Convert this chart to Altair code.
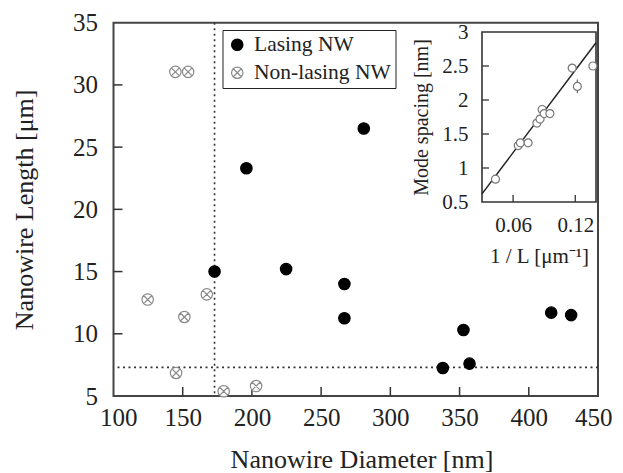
import altair as alt
import pandas as pd

FONT = "Liberation Serif"
TXT = "#222"

# ---------------- main data ----------------
las_diam = [173, 196, 224.7, 266.8, 266.8, 280.8, 337.9, 352.8, 357.2, 416.2, 430.6]
las_len = [15.0, 23.3, 15.2, 14.0, 11.25, 26.5, 7.25, 10.3, 7.6, 11.7, 11.5]
non_diam = [144.7, 153.9, 124.7, 151.2, 167.4, 145.2, 179.6, 203.0]
non_len = [31.05, 31.05, 12.75, 11.35, 13.17, 6.85, 5.38, 5.8]
labels = ["Lasing NW", "Non-lasing NW"]

x_domain = [100, 450]
y_domain = [5, 35]
x_ticks = [100, 150, 200, 250, 300, 350, 400, 450]
y_ticks = [5, 10, 15, 20, 25, 30, 35]
x_inner_ticks = [150, 200, 250, 300, 350, 400]
y_inner_ticks = [10, 15, 20, 25, 30]
vline_diam = [173]
hline_len = [7.3]

# ---------------- inset data ----------------
inv_L = [0.043, 0.065, 0.067, 0.0745, 0.083, 0.086, 0.088, 0.090, 0.0955, 0.117, 0.122, 0.137]
spacing = [0.835, 1.33, 1.37, 1.37, 1.66, 1.72, 1.86, 1.80, 1.80, 2.47, 2.20, 2.50]
spacing_err = [0, 0, 0, 0, 0, 0, 0, 0, 0, 0, 0.1, 0]
fit_slope = [20.2]
fit_intercept = [0.014]
ix_domain = [0.03, 0.14]
iy_domain = [0.5, 3.0]
ix_ticks = [0.06, 0.12]
iy_ticks = [0.5, 1, 1.5, 2, 2.5, 3]
iy_inner_ticks = [1, 1.5, 2, 2.5]

# ---------------- layout (pixels) ----------------
W, H = 484.5, 373.3
INSET_X = [368.5, 482.5]
INSET_Y = [179.3, 9.3]

main_df = pd.DataFrame({
    "diam": las_diam + non_diam,
    "len": las_len + non_len,
    "type": [labels[0]] * len(las_diam) + [labels[1]] * len(non_diam),
})

otimes = ("M-1,0A1,1,0,1,1,1,0A1,1,0,1,1,-1,0Z"
          "M-0.7071,-0.7071L0.7071,0.7071M-0.7071,0.7071L0.7071,-0.7071")


def xs():
    return alt.Scale(domain=x_domain, nice=False, zero=False)


def ys():
    return alt.Scale(domain=y_domain, nice=False, zero=False)


def ixs():
    return alt.Scale(domain=ix_domain, range=INSET_X, nice=False, zero=False)


def iys():
    return alt.Scale(domain=iy_domain, range=INSET_Y, nice=False, zero=False)


leg = alt.Legend(title=None, orient="none", legendX=109, legendY=7.3,
                 strokeColor="#222", fillColor="white", padding=4,
                 labelFont=FONT, labelFontSize=21.5, labelColor=TXT,
                 symbolSize=130, symbolStrokeWidth=1.2, labelOffset=6,
                 rowPadding=5, labelLimit=0)

common_axis = dict(tickSize=0, domain=False, grid=False, labelOverlap=False,
                   labelColor=TXT, labelFont=FONT, titleFont=FONT, titleFontWeight="normal",
                   titleColor=TXT, titleBaseline="alphabetic")

# main axes (carried by an invisible layer)
axes_main = alt.Chart(pd.DataFrame({"diam": x_domain, "len": y_domain})).mark_point(opacity=0).encode(
    x=alt.X("diam:Q", scale=xs(),
            axis=alt.Axis(orient="bottom", values=x_ticks, labelFontSize=25, labelPadding=9,
                          labelFlush=True, labelFlushOffset=14,
                          title="Nanowire Diameter [nm]", titleFontSize=26, titleY=71, titleX=248,
                          **common_axis)),
    y=alt.Y("len:Q", scale=ys(),
            axis=alt.Axis(orient="left", values=y_ticks, labelFontSize=25, labelPadding=16,
                          labelFlush=False,
                          title="Nanowire Length [μm]", titleFontSize=26, titleX=-81.5,
                          **common_axis)),
)

points = alt.Chart(main_df).mark_point(size=130, strokeWidth=1.2, opacity=1).encode(
    x=alt.X("diam:Q", scale=xs(), axis=None),
    y=alt.Y("len:Q", scale=ys(), axis=None),
    shape=alt.Shape("type:N", scale=alt.Scale(domain=labels, range=["circle", otimes]), legend=leg),
    fill=alt.Fill("type:N", scale=alt.Scale(domain=labels, range=["#000000", "#ffffff"]), legend=leg),
    stroke=alt.Stroke("type:N", scale=alt.Scale(domain=labels, range=["#000000", "#8a8a8a"]), legend=leg),
)

vline = alt.Chart(pd.DataFrame({"diam": vline_diam})).mark_rule(
    color="#333", strokeWidth=1.6, strokeDash=[2, 3.5]).encode(
    x=alt.X("diam:Q", scale=xs(), axis=None))
hline = alt.Chart(pd.DataFrame({"len": hline_len})).mark_rule(
    color="#333", strokeWidth=1.6, strokeDash=[2, 3.5]).encode(
    y=alt.Y("len:Q", scale=ys(), axis=None))

xtick_m = alt.Chart(pd.DataFrame({"diam": x_inner_ticks})).mark_rule(color="#333", strokeWidth=1.5).encode(
    x=alt.X("diam:Q", scale=xs(), axis=None), y=alt.value(H), y2=alt.value(H - 9))
ytick_m = alt.Chart(pd.DataFrame({"len": y_inner_ticks})).mark_rule(color="#333", strokeWidth=1.5).encode(
    y=alt.Y("len:Q", scale=ys(), axis=None), x=alt.value(0), x2=alt.value(9))

# ---------------- inset ----------------
inset_df = pd.DataFrame({"invL": inv_L, "sp": spacing, "err": spacing_err})
inset_df["lo"] = inset_df["sp"] - inset_df["err"]
inset_df["hi"] = inset_df["sp"] + inset_df["err"]

box = alt.Chart(pd.DataFrame({"invL": [ix_domain[0]], "invL2": [ix_domain[1]],
                              "sp": [iy_domain[0]], "sp2": [iy_domain[1]]})).mark_rect(
    fill="white", stroke="#333", strokeWidth=1.6).encode(
    x=alt.X("invL:Q", scale=ixs(),
            axis=alt.Axis(orient="bottom", offset=-(H - INSET_Y[0]), values=ix_ticks,
                          labelFontSize=21, labelPadding=12, labelFlush=False, title="1 / L [μm⁻¹]",
                          titleFontSize=21, titleY=60, **common_axis)),
    x2="invL2:Q",
    y=alt.Y("sp:Q", scale=iys(),
            axis=alt.Axis(orient="left", offset=-INSET_X[0], values=iy_ticks, format="~g",
                          labelFontSize=21, labelPadding=14, labelFlush=False, title="Mode spacing [nm]",
                          titleFontSize=20, titleX=-55, **common_axis)),
    y2="sp2:Q",
)

fit_df = pd.DataFrame({"invL": ix_domain})
fit_df["sp"] = fit_df["invL"] * fit_slope[0] + fit_intercept[0]
fit = alt.Chart(fit_df).mark_line(color="#222", strokeWidth=1.5).encode(
    x=alt.X("invL:Q", scale=ixs(), axis=None), y=alt.Y("sp:Q", scale=iys(), axis=None))

errs = alt.Chart(inset_df).transform_filter("datum.err > 0").mark_rule(color="#666", strokeWidth=1.2).encode(
    x=alt.X("invL:Q", scale=ixs(), axis=None), y=alt.Y("lo:Q", scale=iys(), axis=None), y2="hi:Q")

ipts = alt.Chart(inset_df).mark_point(size=64, strokeWidth=1.2, color="#777", filled=False, opacity=1,
                                      fill="white", fillOpacity=1).encode(
    x=alt.X("invL:Q", scale=ixs(), axis=None), y=alt.Y("sp:Q", scale=iys(), axis=None))

ixt = alt.Chart(pd.DataFrame({"invL": ix_ticks})).mark_rule(color="#333", strokeWidth=1.3).encode(
    x=alt.X("invL:Q", scale=ixs(), axis=None), y=alt.value(INSET_Y[0]), y2=alt.value(INSET_Y[0] - 7))
iyt = alt.Chart(pd.DataFrame({"sp": iy_inner_ticks})).mark_rule(color="#333", strokeWidth=1.3).encode(
    y=alt.Y("sp:Q", scale=iys(), axis=None), x=alt.value(INSET_X[0]), x2=alt.value(INSET_X[0] + 7))

chart = alt.layer(
    axes_main, vline, hline, xtick_m, ytick_m, points,
    box, fit, errs, ipts, ixt, iyt,
).resolve_scale(x="independent", y="independent").properties(
    width=W, height=H,
    autosize=alt.AutoSizeParams(type="none"),
    padding={"left": 105.5, "top": 14.7, "right": 16, "bottom": 76},
    background="white",
).configure_view(stroke="#444", strokeWidth=2)

chart.save("out.html", embed_options={"renderer": "svg", "actions": False})
